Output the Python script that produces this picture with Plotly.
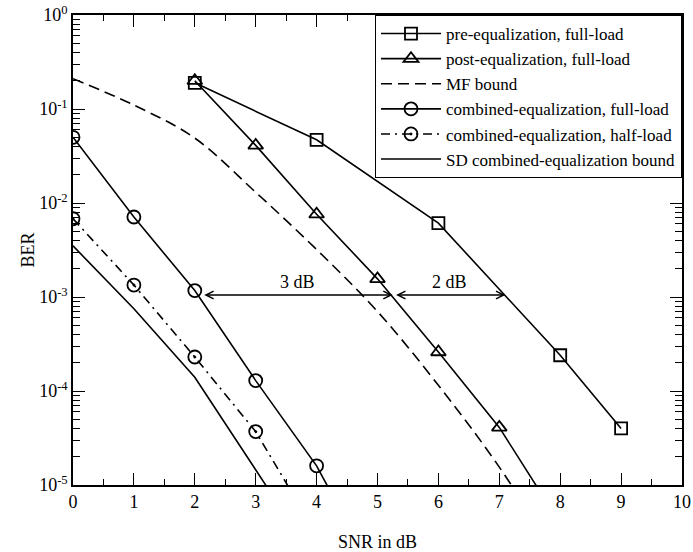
import math
import plotly.graph_objects as go

# ---- data ----
snr_pre = [2, 4, 6, 8, 9]
ber_pre = [0.19, 0.047, 0.0061, 2.4e-4, 4.0e-5]

snr_post = [2, 3, 4, 5, 6, 7, 8]
ber_post = [0.2, 0.041, 0.0076, 0.00156, 2.6e-4, 4.1e-5, 3.9e-6]

snr_mf = [0, 1, 2, 3, 4, 5, 6, 7, 8]
ber_mf = [0.21, 0.11, 0.049, 0.013, 0.0032, 7.0e-4, 1.15e-4, 1.55e-5, 1.5e-6]

snr_comb_full = [0, 1, 2, 3, 4, 5]
ber_comb_full = [0.05, 0.0071, 0.00117, 1.29e-4, 1.6e-5, 1.0e-6]

snr_comb_half = [0, 1, 2, 3, 4]
ber_comb_half = [0.0068, 0.00134, 2.3e-4, 3.7e-5, 3.0e-6]

snr_sd = [0, 1, 2, 3, 4]
ber_sd = [0.0035, 7.5e-4, 1.4e-4, 1.5e-5, 1.5e-6]

x_ticks = list(range(0, 11))
y_tickvals = [1e-5, 1e-4, 1e-3, 1e-2, 1e-1, 1]
y_ticktext = ["10<sup>-5</sup>", "10<sup>-4</sup>", "10<sup>-3</sup>",
              "10<sup>-2</sup>", "10<sup>-1</sup>", "10<sup>0</sup>"]

# annotation data (SNR gaps at BER = 1e-3)
gap_level = 1.05e-3
gap1 = (2.13, 5.25, "3 dB")
gap2 = (5.28, 7.10, "2 dB")

FONT = "Liberation Serif"
LW = 1.6
black = "black"

fig = go.Figure()
fig.add_trace(go.Scatter(x=snr_pre, y=ber_pre, mode="lines+markers",
                         name="pre-equalization, full-load",
                         line=dict(color=black, width=LW),
                         marker=dict(symbol="square-open", size=12, color=black,
                                     line=dict(width=1.8))))
fig.add_trace(go.Scatter(x=snr_post, y=ber_post, mode="lines+markers",
                         name="post-equalization, full-load",
                         line=dict(color=black, width=LW),
                         marker=dict(symbol="triangle-up-open", size=13, color=black,
                                     line=dict(width=1.8))))
fig.add_trace(go.Scatter(x=snr_mf, y=ber_mf, mode="lines",
                         name="MF bound", line_shape="spline",
                         line=dict(color=black, width=LW, dash="11px,6px")))
fig.add_trace(go.Scatter(x=snr_comb_full, y=ber_comb_full, mode="lines+markers",
                         name="combined-equalization, full-load",
                         line=dict(color=black, width=LW),
                         marker=dict(symbol="circle-open", size=13, color=black,
                                     line=dict(width=1.8))))
fig.add_trace(go.Scatter(x=snr_comb_half, y=ber_comb_half, mode="lines+markers",
                         name="combined-equalization, half-load",
                         line=dict(color=black, width=LW, dash="9px,5px,2px,5px"),
                         marker=dict(symbol="circle-open-dot", size=13, color=black,
                                     line=dict(width=1.8))))
fig.add_trace(go.Scatter(x=snr_sd, y=ber_sd, mode="lines",
                         name="SD combined-equalization bound",
                         line=dict(color=black, width=LW)))

ly = math.log10(gap_level)
for x0, x1, label in (gap1, gap2):
    fig.add_annotation(x=x1, y=ly, ax=x0, ay=ly, xref="x", yref="y",
                       axref="x", ayref="y", text="", showarrow=True,
                       arrowside="end+start", arrowhead=5, startarrowhead=5,
                       arrowsize=0.95, startarrowsize=0.95, arrowwidth=1.6,
                       arrowcolor=black, standoff=0, startstandoff=0)
    fig.add_annotation(x=(x0 + x1) / 2, y=ly, xref="x", yref="y", text=label,
                       showarrow=False, yshift=13,
                       font=dict(family=FONT, size=18, color=black))

minor_y = [m * 10 ** e for e in range(-5, 0) for m in range(2, 10)]

fig.update_layout(
    width=693, height=552,
    margin=dict(l=73, r=11, t=15, b=67),
    paper_bgcolor="white", plot_bgcolor="white",
    font=dict(family=FONT, size=18, color=black),
    showlegend=True,
    legend=dict(x=1, y=1, xanchor="right", yanchor="top",
                bgcolor="white", bordercolor=black, borderwidth=1,
                font=dict(family=FONT, size=17, color=black),
                tracegroupgap=0, itemwidth=60),
    xaxis=dict(range=[0, 10], tickvals=x_ticks, ticks="inside", ticklen=12,
               tickwidth=1.2, tickcolor=black, showline=True, linecolor=black,
               linewidth=1.5, mirror="ticks", showgrid=False, zeroline=False,
               automargin=False,
               minor=dict(tickvals=[v + 0.5 for v in range(10)], ticks="inside",
                          ticklen=6, tickcolor=black, tickwidth=1.2, showgrid=False),
               title=dict(text="SNR in dB", standoff=24,
                          font=dict(family=FONT, size=18)),
               tickfont=dict(family=FONT, size=18)),
    yaxis=dict(type="log", range=[-5, 0], tickvals=y_tickvals, ticktext=y_ticktext,
               ticks="inside", ticklen=12, tickwidth=1.2, tickcolor=black,
               showline=True, linecolor=black, linewidth=1.5, mirror="ticks",
               showgrid=False, zeroline=False, automargin=False,
               minor=dict(tickvals=minor_y, ticks="inside", ticklen=7,
                          tickcolor=black, tickwidth=1.2, showgrid=False),
               title=dict(text="BER", standoff=0,
                          font=dict(family=FONT, size=18)),
               tickfont=dict(family=FONT, size=18)),
)

# remove the default page margin so the figure fills the window exactly
fig.write_html("out.html",
               config={"displayModeBar": False},
               post_script="document.body.style.margin='0';"
                           "document.body.style.overflow='hidden';")
